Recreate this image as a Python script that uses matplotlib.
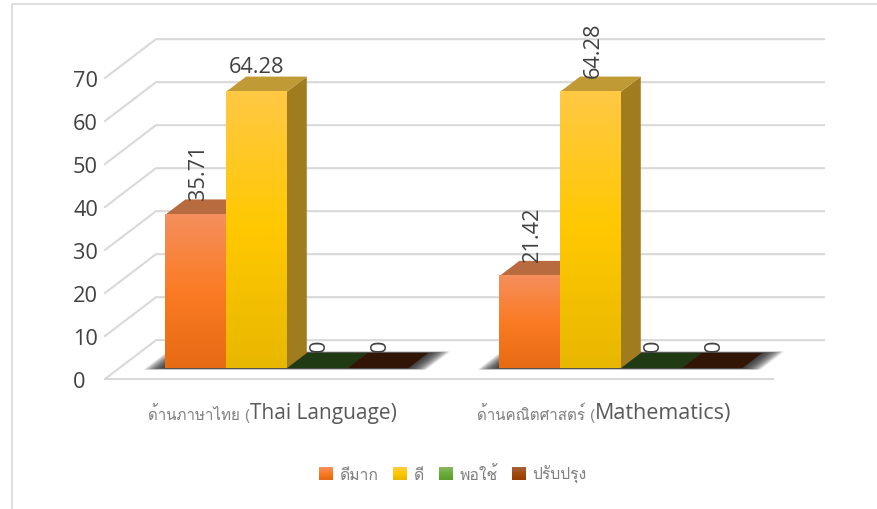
import numpy as np
import matplotlib
matplotlib.use('Agg')
import matplotlib.pyplot as plt
from matplotlib import font_manager as fm
from matplotlib.colors import LinearSegmentedColormap
from matplotlib.legend_handler import HandlerBase
from matplotlib.lines import Line2D
from matplotlib.patches import Patch, Polygon, Rectangle
from matplotlib.ft2font import FT2Font

categories_th = ['ด้านภาษาไทย (', 'ด้านคณิตศาสตร์ (']
categories_en = ['Thai Language)', 'Mathematics)']
series_names = ['ดีมาก', 'ดี', 'พอใช้', 'ปรับปรุง']
dimak = [35.71, 21.42]
di = [64.28, 64.28]
phochai = [0, 0]
prapprung = [0, 0]
label_rot = [[90, 0, 90, 90], [90, 90, 90, 90]]
yticks = [0, 10, 20, 30, 40, 50, 60, 70]

series = [dimak, di, phochai, prapprung]
# top, middle, bottom of the front face
face_cols = [['#F58F5C', '#FA7B24', '#E76B14'],
             ['#FFC943', '#FFC800', '#E8B800'],
             ['#86B862', '#6CAB3C', '#5E9E30'],
             ['#A8623A', '#A04A10', '#983E00']]
top_cols = ['#B96B40', '#C09A35', '#3A5A20', '#321605']
side_cols = ['#8A4A18', '#A07C1E', '#203A14', '#321605']
floor_cols = ['#5A3010', '#7A6010', '#203A14', '#321605']

# is there anything installed that can draw Thai
thai_font = None
for f in fm.fontManager.ttflist:
    try:
        if 0x0E14 in FT2Font(f.fname).get_charmap():
            thai_font = f.name
            break
    except Exception:
        pass
latin = ['Open Sans', 'DejaVu Sans']
thai = [thai_font] + latin if thai_font else latin

fig = plt.figure(figsize=(8.78, 5.1), dpi=100)
ax = fig.add_axes([105 / 878, 130 / 510, 668 / 878, 301 / 510])
ax.set_xlim(0, 11)
ax.set_ylim(0, 70)
ax.patch.set_visible(False)

DX = 0.84  # depth of floor in slots
DY = 9.03  # depth of floor in value units
D0 = 0.28
D1 = 0.67
grid_c = '#D9D9D9'

def pr(x, v, d):
    return x + d * DX, v + d * DY

# walls
for v in yticks:
    x0, y0 = pr(0, v, 0)
    x1, y1 = pr(0, v, 1)
    x2, y2 = pr(11, v, 1)
    ax.plot([x0, x1, x2], [y0, y1, y2], color=grid_c, lw=1.5, clip_on=False, zorder=1)
ax.plot([0, 11], [0, 0], color=grid_c, lw=1.5, clip_on=False, zorder=1)

for g in range(len(categories_th)):
    start = g * 5.5 + 0.76
    # soft shadow under the row of bars, many faint layers
    for e in np.linspace(0.33, 0.01, 24):
        dd = e * 0.12
        pts = [pr(start - e, 0, D0 - dd), pr(start + 4 + e, 0, D0 - dd),
               pr(start + 4 + e, 0, D1 + dd), pr(start - e, 0, D1 + dd)]
        ax.add_patch(Polygon(pts, closed=True, fc='#202020', ec='none', alpha=0.07,
                             clip_on=False, zorder=2))
    for s in range(len(series)):
        v = series[s][g]
        x = start + s
        if v == 0:
            pts = [pr(x, 0, D0), pr(x + 1, 0, D0), pr(x + 1, 0, D1), pr(x, 0, D1)]
            ax.add_patch(Polygon(pts, closed=True, fc=floor_cols[s], ec='none', clip_on=False, zorder=3))
        else:
            # side first, front goes over it
            pts = [pr(x + 1, 0, D0), pr(x + 1, v, D0), pr(x + 1, v, D1), pr(x + 1, 0, D1)]
            ax.add_patch(Polygon(pts, closed=True, fc=side_cols[s], ec='none', clip_on=False, zorder=3 + s))
            pts = [pr(x, v, D0), pr(x + 1, v, D0), pr(x + 1, v, D1), pr(x, v, D1)]
            ax.add_patch(Polygon(pts, closed=True, fc=top_cols[s], ec='none', clip_on=False, zorder=3 + s))
            fx, fy = pr(x, 0, D0)
            cm = LinearSegmentedColormap.from_list('f%d' % s, face_cols[s])
            ax.imshow(np.linspace(0, 1, 64).reshape(-1, 1), cmap=cm, aspect='auto',
                      extent=[fx, fx + 1, fy, fy + v], origin='upper', clip_on=False,
                      zorder=3.5 + s)
        # data label
        ly = pr(x, v, D1)[1]
        if v == 0:
            ly = ly + 0.5
        lx = pr(x + 0.5, v, D0)[0]
        if label_rot[g][s] == 90:
            lx = lx + 0.04
        ax.text(lx, ly, str(v), rotation=label_rot[g][s], ha='center', va='bottom',
                fontsize=15.7, color='#404040', family=latin, zorder=10, clip_on=False)

ax.set_xlim(0, 11)
ax.set_ylim(0, 70)

# axis text
ax.set_yticks(yticks)
ax.set_xticks([])
ax.tick_params(axis='y', length=0, pad=23, labelsize=15.7, labelcolor='#404040')
for t in ax.get_yticklabels():
    t.set_family(latin)
    t.set_ha('left')
for sp in ax.spines.values():
    sp.set_visible(False)

splits = [2.39, 8.07]
en_size = [15.0, 15.5]
for i in range(len(splits)):
    ax.annotate(categories_th[i], (splits[i], 0), xytext=(0, -24), textcoords='offset points',
                ha='right', va='center', fontsize=10.9, color='#7F7F7F', family=thai)
    ax.annotate(categories_en[i], (splits[i], 0), xytext=(0, -24), textcoords='offset points',
                ha='left', va='center', fontsize=en_size[i], color='#595959', family=latin)

# legend, swatches have the same gradient as the bars
class GradHandler(HandlerBase):
    def create_artists(self, legend, orig, xd, yd, w, h, fontsize, trans):
        cm = LinearSegmentedColormap.from_list('l', orig.get_label_cols())
        out = []
        n = 10
        for k in range(n):
            out.append(Rectangle((xd * -1, yd * -1 + h * (n - 1 - k) / n), w, h / n + 0.2,
                                 fc=cm(k / (n - 1)), ec='none', transform=trans))
        return out

class Swatch(Patch):
    def __init__(self, cols, **kw):
        super().__init__(**kw)
        self._cols = cols
    def get_label_cols(self):
        return self._cols

handles = [Swatch(face_cols[i], label=series_names[i]) for i in range(len(series_names))]
fig.legend(handles=handles, loc='center', bbox_to_anchor=(453 / 878, 1 - 475 / 510), ncols=4,
           frameon=False, handler_map={Swatch: GradHandler()}, handlelength=0.9, handleheight=0.9,
           handletextpad=0.4, columnspacing=0.95, prop=fm.FontProperties(family=thai, size=11.3),
           labelcolor='#7F7F7F')

# chart border, only top and left are inside the picture
fig.add_artist(Line2D([12.5 / 878, 12.5 / 878, 1], [0, 1 - 4.5 / 510, 1 - 4.5 / 510],
                      color='#D9D9D9', lw=1.2))

fig.savefig('out.png', dpi=100)
